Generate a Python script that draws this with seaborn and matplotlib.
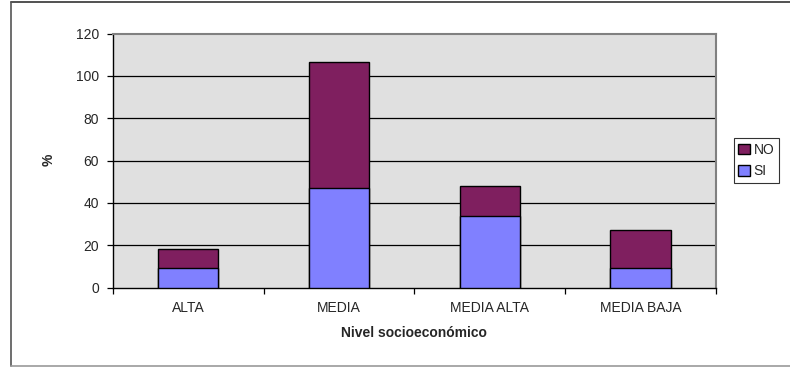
import matplotlib
matplotlib.use("Agg")
import matplotlib.pyplot as plt
import seaborn as sns
import pandas as pd
from matplotlib.lines import Line2D
from matplotlib.patches import Patch

categories = ["ALTA", "MEDIA", "MEDIA ALTA", "MEDIA BAJA"]
si_values = [9.1, 47.0, 33.8, 9.2]
no_values = [9.2, 59.6, 14.0, 17.8]
y_ticks = [0, 20, 40, 60, 80, 100, 120]

totals = [s + n for s, n in zip(si_values, no_values)]
df = pd.DataFrame({"cat": categories, "SI": si_values, "NO": no_values, "total": totals})

sns.set_theme(style="white")
plt.rcParams['font.family'] = ['Liberation Sans', 'DejaVu Sans']

fig = plt.figure(figsize=(7.9, 3.67), dpi=100)
ax = fig.add_axes([112.7/790, 1-287.5/367, (716-112.7)/790, (287.5-33.5)/367])
ax.set_facecolor("#E0E0E0")

no_color = "#7F1F5F"
si_color = "#8080FF"

sns.barplot(data=df, x="cat", y="total", color=no_color, width=0.4,
            edgecolor="black", linewidth=1.0, saturation=1, ax=ax, zorder=3)
sns.barplot(data=df, x="cat", y="SI", color=si_color, width=0.4,
            edgecolor="black", linewidth=1.0, saturation=1, ax=ax, zorder=4)

ax.set_ylim(0, 120)
ax.set_xlim(-0.5, 3.5)
ax.set_yticks(y_ticks)
ax.set_yticklabels([str(v) for v in y_ticks], fontsize=10)
for v in y_ticks[1:-1]:
    ax.axhline(v, color="black", linewidth=0.9, zorder=1)

ax.set_xticks(range(len(categories)))
ax.set_xticklabels(categories, fontsize=10)
ax.set_xticks([-0.5, 0.5, 1.5, 2.5, 3.5], minor=True)
ax.tick_params(axis="x", which="major", length=0, pad=10)
ax.tick_params(axis="x", which="minor", length=4, width=0.9, color="black", direction="out", bottom=True)
ax.tick_params(axis="y", length=4, width=0.9, color="black", direction="out", left=True, pad=6)

for side in ["top", "right"]:
    ax.spines[side].set_color("#808080")
    ax.spines[side].set_linewidth(1.5)
for side in ["left", "bottom"]:
    ax.spines[side].set_color("black")
    ax.spines[side].set_linewidth(1.0)

ax.set_xlabel("")
ax.set_ylabel("")
fig.text(413.5/790, 1-333/367, "Nivel socioeconómico", ha="center", va="center",
         fontsize=10, fontweight="bold")
fig.text(49/790, 1-160/367, "%", ha="center", va="center", rotation=90,
         fontsize=10, fontweight="bold")

handles = [Patch(facecolor=no_color, edgecolor="black", linewidth=1.0, label="NO"),
           Patch(facecolor=si_color, edgecolor="black", linewidth=1.0, label="SI")]
leg = fig.legend(handles=handles, loc="center", bbox_to_anchor=(756.5/790, 1-160.5/367),
                 fontsize=10, frameon=True, fancybox=False, handlelength=0.8,
                 handleheight=0.8, handletextpad=0.3, borderpad=0.35, labelspacing=0.55,
                 borderaxespad=0)
leg.get_frame().set_edgecolor("black")
leg.get_frame().set_linewidth(0.8)

# outer frame
fig.add_artist(Line2D([10.5/790, 1.0], [1-2/367, 1-2/367], color="#333333", linewidth=1.2))
fig.add_artist(Line2D([10.5/790, 10.5/790], [1-2/367, 1-366/367], color="#555555", linewidth=1.2))
fig.add_artist(Line2D([10.5/790, 1.0], [1-366/367, 1-366/367], color="#999999", linewidth=1.2))

fig.savefig("out.png", dpi=100, facecolor="white")
